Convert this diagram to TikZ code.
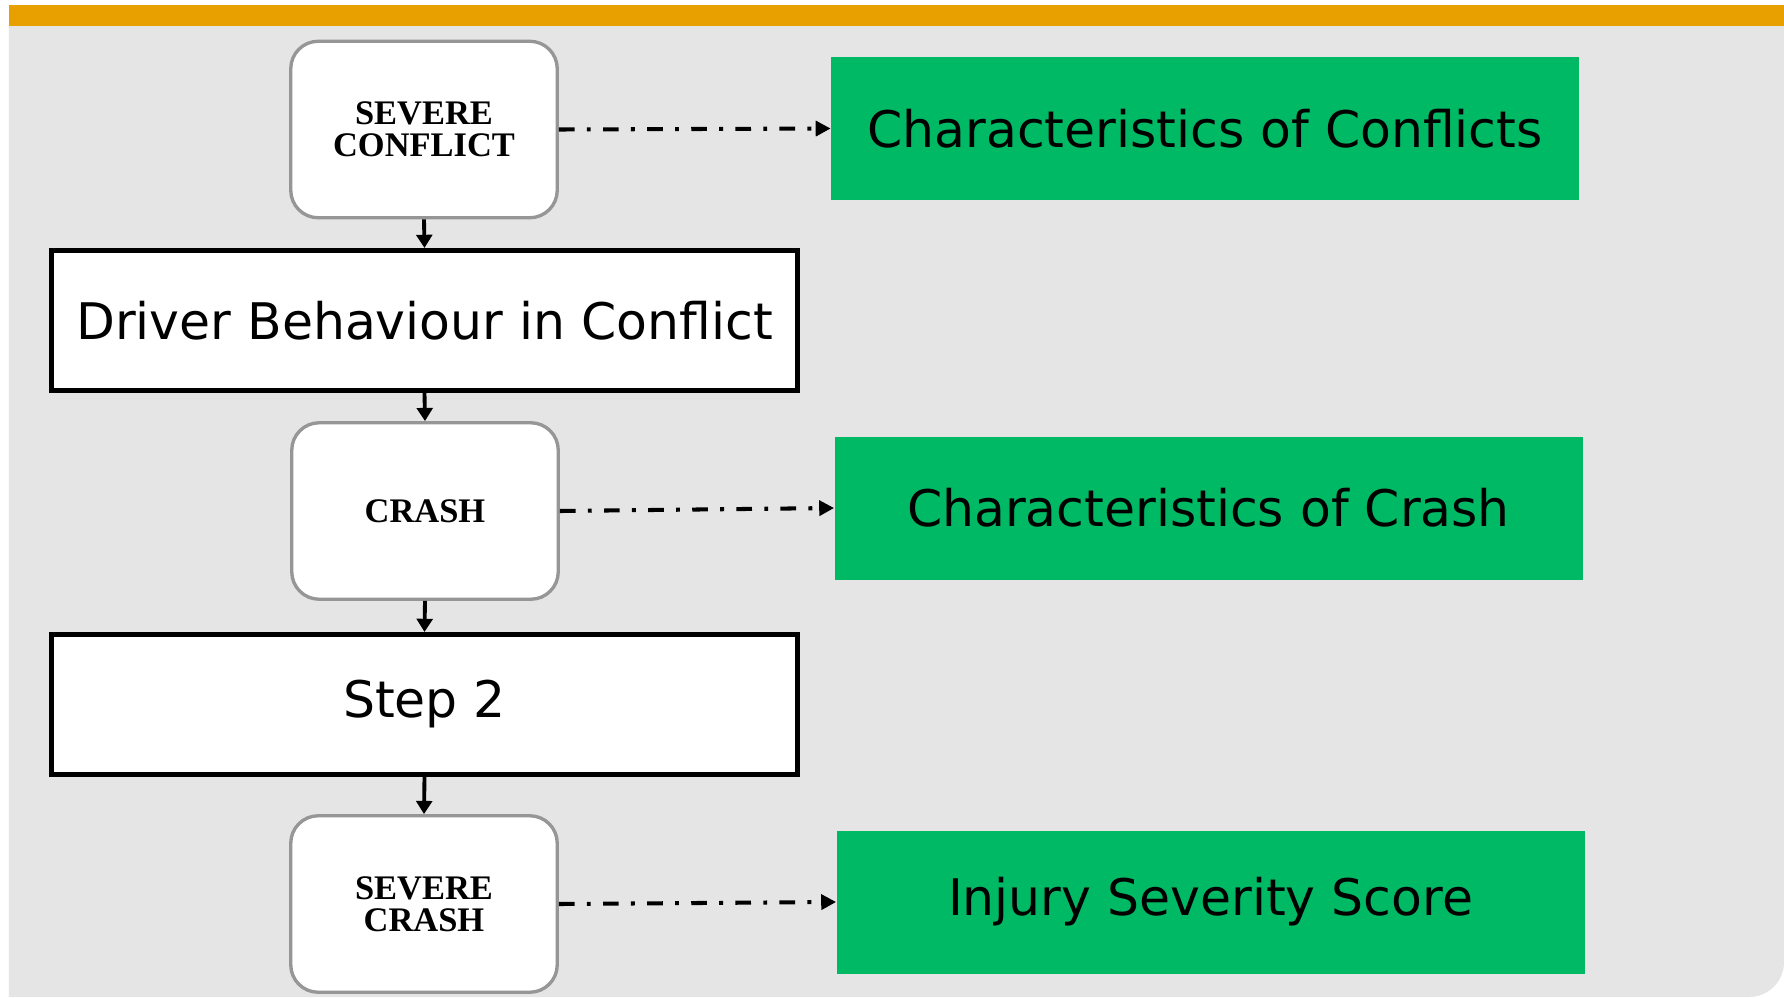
\documentclass[tikz,border=0pt]{standalone}
\usepackage{fontspec}
\setmainfont{Liberation Serif}
\newfontfamily\labelfont{DejaVu Sans}
\usepackage{xcolor}
\usepackage{tikz}
\usetikzlibrary{arrows.meta,positioning,calc}
\definecolor{barorange}{RGB}{232,160,0}
\definecolor{panelgray}{RGB}{229,229,229}
\definecolor{boxgreen}{RGB}{0,185,100}
\definecolor{edgegray}{RGB}{150,150,150}

\begin{document}
\begin{tikzpicture}
\useasboundingbox (0,0) rectangle (35.68,-19.94);
\def\xL{8.48} \def\xR{24.17}
\tikzset{stage/.style={draw=edgegray,line width=1.9pt,fill=white,rounded corners=0.55cm,minimum width=5.33cm,minimum height=3.53cm,align=center,inner sep=0pt,font=\fontsize{19.6}{18.2}\selectfont\bfseries}}
\tikzset{stepbox/.style={draw=black,line width=2.6pt,fill=white,minimum width=14.93cm,minimum height=2.81cm,inner sep=0pt,font=\labelfont\fontsize{28.7}{34}\selectfont}}
\tikzset{outcome/.style={fill=boxgreen,minimum width=14.96cm,minimum height=2.86cm,inner sep=0pt,font=\labelfont\fontsize{28.7}{34}\selectfont}}
\tikzset{flow/.style={-{Triangle[length=7.5pt,width=9pt]},line width=2.2pt}}
\tikzset{link/.style={-{Triangle[length=8.5pt,width=8.5pt]},line width=2.3pt,dash pattern=on 8.9pt off 7pt on 2.2pt off 7pt}}
% background
\fill[white] (0,0) rectangle (35.68,-19.94);
\fill[panelgray] (0.18,-0.52) -- (35.68,-0.52) -- (35.68,-19.24) arc[start angle=0,end angle=-90,radius=0.7] -- (0.18,-19.94) -- cycle;
\fill[barorange] (0.18,-0.1) rectangle (35.68,-0.52);
% left column
\node[stage] (sconf) at (\xL,-2.59) {SEVERE\\CONFLICT};
\node[stepbox] (drv) at (8.49,-6.41) {Driver Behaviour in Conflict};
\node[stage] (crash) at (8.5,-10.22) {CRASH};
\node[stepbox] (step) at (8.49,-14.09) {Step 2};
\node[stage] (scrash) at (\xL,-18.08) {SEVERE\\CRASH};
% right column
\node[outcome] (cconf) at (24.1,-2.57) {Characteristics of Conflicts};
\node[outcome] (ccrash) at (\xR,-10.16) {Characteristics of Crash};
\node[outcome] (iss) at (24.21,-18.04) {Injury Severity Score};
% connectors
\draw[flow] (sconf.south) -- (drv.north);
\draw[flow] (drv.south) -- (crash.north);
\draw[flow] (crash.south) -- (step.north);
\draw[flow] (step.south) -- (scrash.north);
\draw[link] (sconf.east) -- (cconf.west);
\draw[link] (crash.east) -- (ccrash.west);
\draw[link] (scrash.east) -- (iss.west);
\end{tikzpicture}
\end{document}
